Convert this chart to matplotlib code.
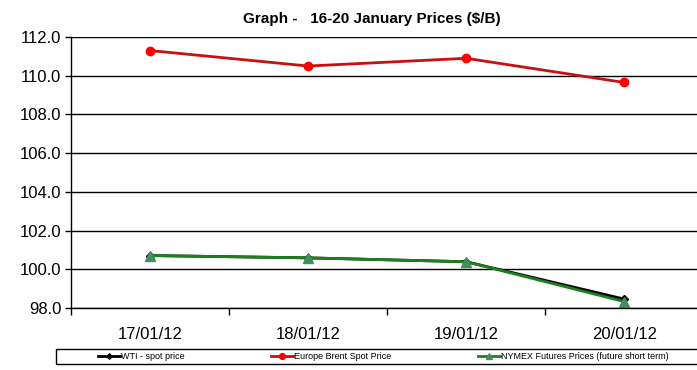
import matplotlib
matplotlib.use("Agg")
import matplotlib.pyplot as plt
from matplotlib.ticker import MultipleLocator, FixedLocator, FormatStrFormatter
from matplotlib.patches import Rectangle

# values
dates = ["17/01/12", "18/01/12", "19/01/12", "20/01/12"]
wti = [100.71, 100.59, 100.39, 98.46]
brent = [111.3, 110.5, 110.9, 109.65]
nymex = [100.71, 100.59, 100.39, 98.33]

plt.rcParams['font.family'] = ['Liberation Sans', 'DejaVu Sans']

W, H = 697, 370
fig = plt.figure(figsize=(W / 100, H / 100), dpi=100)
ax = fig.add_axes([71/W, 62/H, 1 - 71/W, (308 - 37)/H])

x = list(range(len(dates)))
ax.plot(x, wti, color='black', marker='D', markersize=4, linewidth=2, label='WTI - spot price')
ax.plot(x, brent, color='#c81010', marker='o', markersize=6, markerfacecolor='red',
        markeredgecolor='red', linewidth=2, label='Europe Brent Spot Price')
ax.plot(x, nymex, color='#1f7f1f', marker='^', markersize=7, markerfacecolor='#3f8f5f',
        markeredgecolor='#3f8f5f', linewidth=2, label='NYMEX Futures Prices (future short term)')

ax.set_ylim(98, 112)
ax.set_xlim(-0.5, 3.46)
ax.yaxis.set_major_locator(MultipleLocator(2))
ax.yaxis.set_major_formatter(FormatStrFormatter('%.1f'))
ax.grid(axis='y', color='black', linewidth=1)
ax.set_axisbelow(True)

ax.set_xticks(x)
ax.set_xticklabels(dates)
ax.xaxis.set_minor_locator(FixedLocator([-0.5, 0.5, 1.5, 2.5]))
ax.tick_params(axis='x', which='major', length=0, pad=14, labelsize=12)
ax.tick_params(axis='x', which='minor', length=5, width=1, color='black')
ax.tick_params(axis='y', length=4, width=1, labelsize=12, pad=3)

for side in ['top', 'right']:
    ax.spines[side].set_visible(False)
ax.spines['left'].set_linewidth(1)
ax.spines['bottom'].set_linewidth(1)

fig.text(372/W, 1 - 19/H, 'Graph -   16-20 January Prices ($/B)', ha='center', va='center',
         fontsize=11, fontweight='bold')

# legend box drawn separately, entries placed inside it
fig.patches.append(Rectangle((56/W, (H - 364)/H), (W - 56)/W + 0.01, 15/H,
                             transform=fig.transFigure, fill=False,
                             edgecolor='black', linewidth=1))
leg = fig.legend(loc='center left', bbox_to_anchor=(98/W, (H - 356.5)/H),
                 ncol=3, fontsize=6.5, frameon=False, borderpad=0, borderaxespad=0,
                 handlelength=2.4, handletextpad=0.15, columnspacing=9.6,
                 markerscale=0.7)

fig.savefig('out.png', dpi=100)
